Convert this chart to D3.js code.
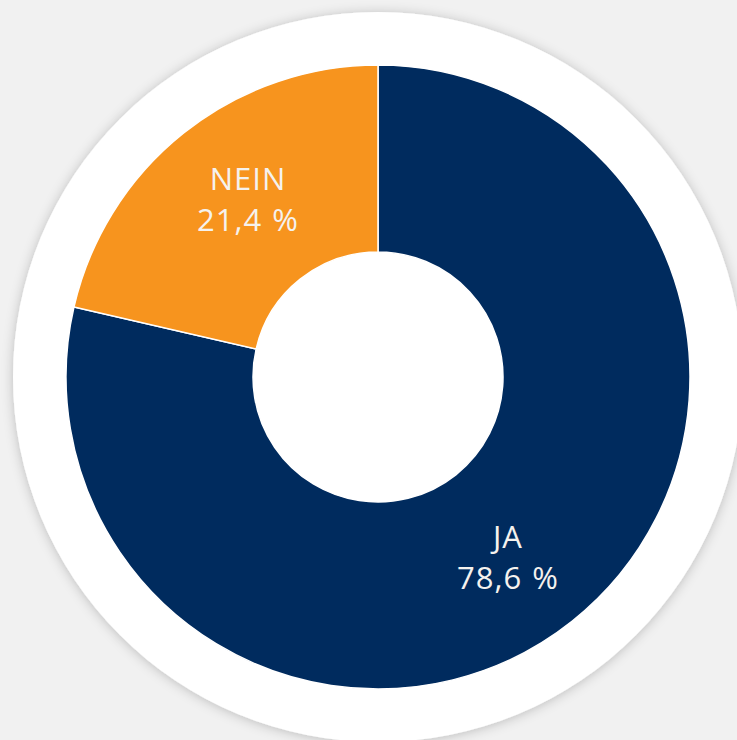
<!DOCTYPE html>
<html>
<head>
<meta charset="utf-8">
<script src="https://cdn.jsdelivr.net/npm/d3@7"></script>
<style>
  html, body { margin: 0; padding: 0; background: #f1f1f1; }
  svg { display: block; }
</style>
</head>
<body>
<script>
const categories = ["JA", "NEIN"];
const values = [78.6, 21.4];
const valueLabels = ["78,6 %", "21,4 %"];
const colors = ["#002b5e", "#f7941e"];

const W = 737, H = 740;
const cx = 378, cy = 377;
const outerR = 312, innerR = 125, plateR = 365;

const svg = d3.select("body").append("svg").attr("width", W).attr("height", H);

const defs = svg.append("defs");
const f = defs.append("filter").attr("id", "shadow")
  .attr("x", "-20%").attr("y", "-20%").attr("width", "140%").attr("height", "140%");
f.append("feDropShadow").attr("dx", 0).attr("dy", 1).attr("stdDeviation", 6)
  .attr("flood-color", "#000").attr("flood-opacity", 0.22);

svg.append("rect").attr("width", W).attr("height", H).attr("fill", "#f1f1f1");

const g = svg.append("g").attr("transform", `translate(${cx},${cy})`);

g.append("circle").attr("r", plateR).attr("fill", "#ffffff").attr("filter", "url(#shadow)");

const pie = d3.pie().sort(null).value(d => d.value);
const data = categories.map((c, i) => ({ cat: c, value: values[i], label: valueLabels[i], color: colors[i] }));
const arcs = pie(data);

const arc = d3.arc().innerRadius(innerR).outerRadius(outerR);
g.selectAll("path.slice").data(arcs).enter().append("path")
  .attr("class", "slice")
  .attr("d", arc)
  .attr("fill", d => d.data.color)
  .attr("stroke", "#ffffff")
  .attr("stroke-width", 1.5);

const rot = 2.5 * Math.PI / 180;
const lbl = g.selectAll("g.lbl").data(arcs).enter().append("g")
  .attr("class", "lbl")
  .attr("transform", d => {
    const c = d3.arc().innerRadius(221).outerRadius(221)
      .startAngle(d.startAngle + rot).endAngle(d.endAngle + rot).centroid();
    return `translate(${c[0]},${c[1]})`;
  });

lbl.append("text")
  .attr("text-anchor", "middle")
  .attr("y", -8)
  .attr("font-family", "'Open Sans', sans-serif")
  .attr("font-size", 31)
  .attr("letter-spacing", 1)
  .attr("fill", "#f5f2ee")
  .text(d => d.data.cat);

lbl.append("text")
  .attr("text-anchor", "middle")
  .attr("y", 33)
  .attr("font-family", "'Open Sans', sans-serif")
  .attr("font-size", 31)
  .attr("letter-spacing", 1)
  .attr("word-spacing", 1)
  .attr("fill", "#f5f2ee")
  .text(d => d.data.label);
</script>
</body>
</html>
